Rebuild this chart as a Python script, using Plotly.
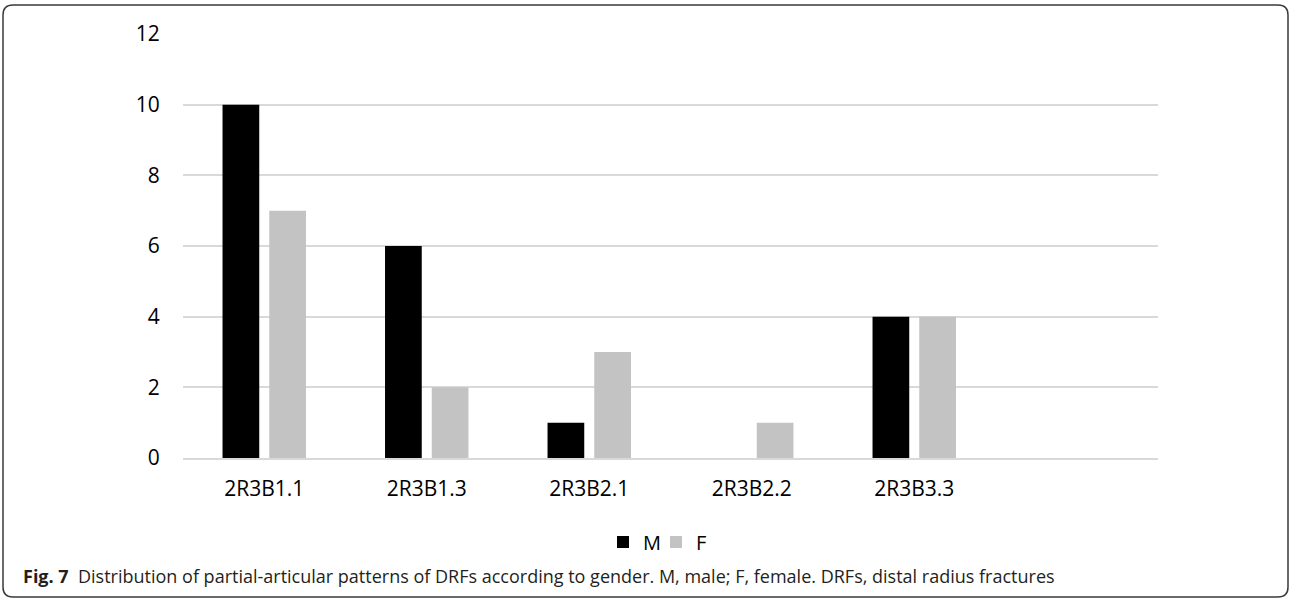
import plotly.graph_objects as go

# Fracture pattern categories (last slot is an empty category)
categories = ["2R3B1.1", "2R3B1.3", "2R3B2.1", "2R3B2.2", "2R3B3.3", " "]
male_counts = [10, 6, 1, 0, 4, None]
female_counts = [7, 2, 3, 1, 4, None]
y_ticks = [0, 2, 4, 6, 8, 10, 12]

W, H = 1290, 600
ML, MR, MT, MB = 183, 132, 34, 142
PW, PH = W - ML - MR, H - MT - MB


def px_x(x):
    return (x - ML) / PW


def px_y(y):
    return (H - MB - y) / PH


fig = go.Figure()
fig.add_trace(go.Bar(name="M", x=categories, y=male_counts, marker_color="#000000",
                     marker_line=dict(width=0)))
fig.add_trace(go.Bar(name="F", x=categories, y=female_counts, marker_color="#c3c3c3",
                     marker_line=dict(width=0)))

# Rounded frame around the whole figure
x0, x1, y0, y1, r = px_x(3), px_x(1288), px_y(5), px_y(597), 10
rx, ry = r / PW, r / PH
frame = (f"M {x0 + rx},{y0} L {x1 - rx},{y0} Q {x1},{y0} {x1},{y0 - ry} "
         f"L {x1},{y1 + ry} Q {x1},{y1} {x1 - rx},{y1} "
         f"L {x0 + rx},{y1} Q {x0},{y1} {x0},{y1 + ry} "
         f"L {x0},{y0 - ry} Q {x0},{y0} {x0 + rx},{y0} Z")

fig.update_layout(
    width=W, height=H,
    margin=dict(l=ML, r=MR, t=MT, b=MB),
    paper_bgcolor="white", plot_bgcolor="white",
    barmode="group", bargap=0.425, bargroupgap=0.214,
    font=dict(family="Open Sans", size=21, color="#000000"),
    showlegend=True,
    legend=dict(orientation="h", x=px_x(603), y=px_y(542), xanchor="left", yanchor="middle",
                font=dict(size=20), itemwidth=30, entrywidth=8, entrywidthmode="pixels",
                traceorder="normal", borderwidth=0),
    xaxis=dict(type="category", categoryorder="array", categoryarray=categories,
               showgrid=False, showline=True, linecolor="#d9d9d9", linewidth=1.6,
               ticks="outside", ticklen=11, tickcolor="rgba(0,0,0,0)",
               tickfont=dict(size=21), fixedrange=True),
    yaxis=dict(range=[0, 12], tickvals=y_ticks, showgrid=True, gridcolor="#d9d9d9",
               gridwidth=1.6, zeroline=False, showline=False,
               ticks="outside", ticklen=18, tickcolor="rgba(0,0,0,0)",
               tickfont=dict(size=21), fixedrange=True),
    shapes=[dict(type="path", xref="paper", yref="paper", path=frame,
                 line=dict(color="#3a3a3a", width=1.5), layer="above")],
    annotations=[dict(
        xref="paper", yref="paper", x=px_x(21), y=px_y(576), xanchor="left", yanchor="middle",
        showarrow=False, align="left",
        text="<b>Fig. 7</b>  Distribution of partial-articular patterns of DRFs according to gender. "
             "M, male; F, female. DRFs, distal radius fractures",
        font=dict(family="Open Sans", size=18, color="#231f20"))],
)

fig.write_html("out.html", config={"displayModeBar": False})
